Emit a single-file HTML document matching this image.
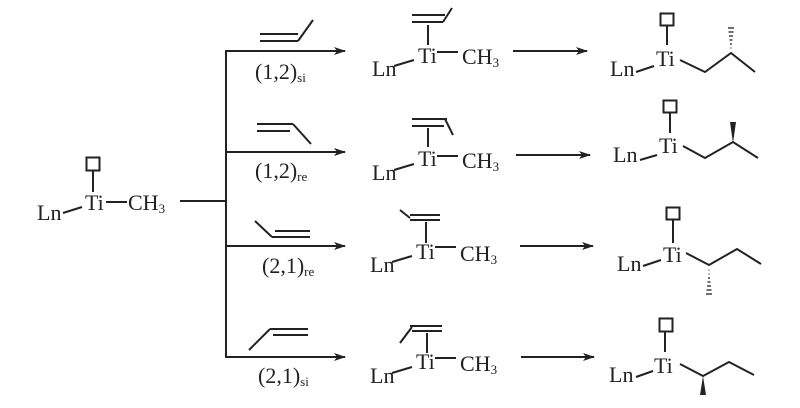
<!DOCTYPE html>
<html><head><style>
html,body{margin:0;padding:0;background:#fff;}
svg{display:block;}
text{font-family:"Liberation Serif",serif;fill:#222;font-size:22px;}
.s{font-size:13px;}
</style></head><body>
<svg width="800" height="408" viewBox="0 0 800 408" xmlns="http://www.w3.org/2000/svg">
<defs>
<marker id="a" markerWidth="12" markerHeight="8" refX="11" refY="4" orient="auto" markerUnits="userSpaceOnUse">
<path d="M0,0 L12,4 L0,8 L3,4 Z" fill="#222"/></marker>
</defs>
<g stroke="#222" stroke-width="2" fill="none">
<!-- left complex -->
<rect x="86.5" y="157.5" width="13" height="13"/>
<line x1="93" y1="171" x2="93" y2="192"/>
<line x1="63" y1="213" x2="82" y2="207"/>
<line x1="106" y1="202" x2="127" y2="202"/>
<line x1="180" y1="201" x2="226" y2="201"/>
<line x1="226" y1="50" x2="226" y2="358"/>
<!-- branch arrows -->
<line x1="226" y1="51" x2="345" y2="51" marker-end="url(#a)"/>
<line x1="226" y1="152" x2="345" y2="152" marker-end="url(#a)"/>
<line x1="226" y1="246" x2="345" y2="246" marker-end="url(#a)"/>
<line x1="226" y1="357" x2="345" y2="357" marker-end="url(#a)"/>
<!-- alkenes above arrows -->
<line x1="260" y1="34" x2="298" y2="34"/><line x1="260" y1="41" x2="298" y2="41"/><line x1="298" y1="41" x2="313" y2="20"/>
<line x1="257" y1="124" x2="293" y2="124"/><line x1="257" y1="131" x2="290" y2="131"/><line x1="293" y1="124" x2="311" y2="144"/>
<line x1="255" y1="221" x2="272" y2="237"/><line x1="272" y1="237" x2="310" y2="237"/><line x1="275" y1="231" x2="310" y2="231"/>
<line x1="249" y1="350" x2="270" y2="329"/><line x1="270" y1="329" x2="308" y2="329"/><line x1="273" y1="335" x2="308" y2="335"/>
<!-- middle complexes -->
<line x1="412" y1="15" x2="445" y2="15"/><line x1="412" y1="22" x2="443" y2="22"/><line x1="443" y1="22" x2="452" y2="8"/><line x1="428" y1="25" x2="428" y2="45"/>
<line x1="394" y1="66" x2="414" y2="60"/><line x1="437" y1="52" x2="458" y2="52"/>
<line x1="412" y1="119" x2="447" y2="119"/><line x1="412" y1="126" x2="444" y2="126"/><line x1="445" y1="119" x2="453" y2="135"/><line x1="428" y1="128" x2="428" y2="147"/>
<line x1="394" y1="170" x2="414" y2="164"/><line x1="437" y1="156" x2="458" y2="156"/>
<line x1="410" y1="215" x2="440" y2="215"/><line x1="410" y1="220" x2="440" y2="220"/><line x1="400" y1="210" x2="410" y2="218"/><line x1="426" y1="222" x2="426" y2="243"/>
<line x1="392" y1="262" x2="412" y2="256"/><line x1="435" y1="247" x2="456" y2="247"/>
<line x1="410" y1="326" x2="442" y2="326"/><line x1="412" y1="331" x2="442" y2="331"/><line x1="400" y1="343" x2="412" y2="327"/><line x1="427" y1="333" x2="427" y2="353"/>
<line x1="392" y1="373" x2="412" y2="367"/><line x1="435" y1="358" x2="456" y2="358"/>
<!-- reaction arrows -->
<line x1="513" y1="51" x2="587" y2="51" marker-end="url(#a)"/>
<line x1="516" y1="155" x2="590" y2="155" marker-end="url(#a)"/>
<line x1="520" y1="246" x2="593" y2="246" marker-end="url(#a)"/>
<line x1="521" y1="357" x2="594" y2="357" marker-end="url(#a)"/>
<!-- products -->
<rect x="660.5" y="13.5" width="13" height="12"/><line x1="667" y1="26" x2="667" y2="45"/>
<line x1="636" y1="72" x2="654" y2="66"/>
<polyline points="680,60 705,72 731,53 755,72"/>
<rect x="663.5" y="100.5" width="13" height="12"/><line x1="670" y1="113" x2="670" y2="133"/>
<line x1="640" y1="160" x2="657" y2="155"/>
<polyline points="683,146 705,158 733,142 758,158"/>
<rect x="666.5" y="207.5" width="13" height="12"/><line x1="673" y1="220" x2="673" y2="243"/>
<line x1="643" y1="266" x2="661" y2="260"/>
<polyline points="686,253 709,265 737,249 761,264"/>
<rect x="659.5" y="318.5" width="13" height="13"/><line x1="665" y1="332" x2="665" y2="352"/>
<line x1="636" y1="377" x2="653" y2="371"/>
<polyline points="680,364 703,376 729,362 754,375"/>
</g>
<!-- hashed / wedge bonds -->
<g stroke="#222" stroke-width="1.3">
<line x1="728" y1="28" x2="734" y2="28"/><line x1="728.5" y1="32" x2="733.5" y2="32"/><line x1="729" y1="36" x2="733" y2="36"/><line x1="729.5" y1="40" x2="732.5" y2="40"/><line x1="730" y1="44" x2="732" y2="44"/><line x1="730.5" y1="48" x2="731.5" y2="48"/>
<line x1="706" y1="294" x2="712" y2="294"/><line x1="706.5" y1="290" x2="711.5" y2="290"/><line x1="707" y1="286" x2="711" y2="286"/><line x1="707.5" y1="282" x2="710.5" y2="282"/><line x1="708" y1="278" x2="710" y2="278"/><line x1="708.5" y1="274" x2="709.5" y2="274"/><line x1="708.5" y1="270" x2="709.5" y2="270"/>
</g>
<polygon points="730,122 736,122 733,143" fill="#222"/>
<polygon points="700,395 706,395 703,376" fill="#222"/>
<!-- text -->
<text x="37" y="220">Ln</text><text x="85" y="210">Ti</text><text x="128" y="210">CH<tspan class="s" dy="3">3</tspan></text>
<text x="255" y="79">(1,2)<tspan class="s" dy="3">si</tspan></text>
<text x="255" y="178">(1,2)<tspan class="s" dy="3">re</tspan></text>
<text x="262" y="273">(2,1)<tspan class="s" dy="3">re</tspan></text>
<text x="258" y="383">(2,1)<tspan class="s" dy="3">si</tspan></text>
<text x="372" y="76">Ln</text><text x="418" y="63">Ti</text><text x="462" y="64">CH<tspan class="s" dy="3">3</tspan></text>
<text x="372" y="180">Ln</text><text x="418" y="166">Ti</text><text x="462" y="168">CH<tspan class="s" dy="3">3</tspan></text>
<text x="370" y="272">Ln</text><text x="416" y="259">Ti</text><text x="460" y="261">CH<tspan class="s" dy="3">3</tspan></text>
<text x="370" y="383">Ln</text><text x="416" y="369">Ti</text><text x="460" y="371">CH<tspan class="s" dy="3">3</tspan></text>
<text x="610" y="76">Ln</text><text x="656" y="66">Ti</text>
<text x="613" y="162">Ln</text><text x="659" y="153">Ti</text>
<text x="617" y="271">Ln</text><text x="663" y="262">Ti</text>
<text x="609" y="382">Ln</text><text x="654" y="373">Ti</text>
</svg>
</body></html>
